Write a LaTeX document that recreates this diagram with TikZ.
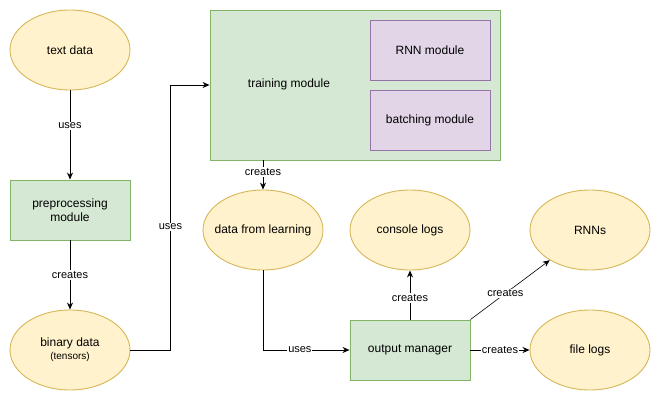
\documentclass[tikz,border=0pt]{standalone}
\usepackage{fontspec}
\setmainfont{Liberation Sans}
\usepackage{tikz}
\usetikzlibrary{arrows.meta,shapes.geometric}
\definecolor{dataFill}{HTML}{FFF2CC}
\definecolor{dataLine}{HTML}{D6B656}
\definecolor{modFill}{HTML}{D5E8D4}
\definecolor{modLine}{HTML}{82B366}
\definecolor{subFill}{HTML}{E1D5E7}
\definecolor{subLine}{HTML}{9673A6}

\begin{document}
\begin{tikzpicture}[x=1pt,y=-1pt,line width=0.9pt,
		>={Stealth[length=7pt,width=6pt]},
		datanode/.style={ellipse,draw=dataLine,fill=dataFill,minimum width=120pt,minimum height=80pt,inner xsep=-25pt,inner ysep=0pt,align=center,font=\fontsize{12}{14}\selectfont},
		modnode/.style={rectangle,draw=modLine,fill=modFill,minimum width=120pt,minimum height=60pt,inner sep=0pt,align=center,font=\fontsize{12}{14}\selectfont},
		subnode/.style={rectangle,draw=subLine,fill=subFill,minimum width=120pt,minimum height=60pt,inner sep=0pt,font=\fontsize{12}{14}\selectfont},
		edgelbl/.style={fill=white,inner sep=1pt,font=\fontsize{11}{13}\selectfont}
	]
		\useasboundingbox (0,0) rectangle (661,401);

		% left column
		\node[datanode] (text) at (70,50) {text data};
		\node[modnode] (prep) at (70,210) {preprocessing\\module};
		\node[datanode] (bin) at (70,350) {binary data\\[-1pt]{\fontsize{10}{12}\selectfont (tensors)}};

		% training block
		\node[modnode,minimum width=290pt,minimum height=150pt] (train) at (355,85) {};
		\node[font=\fontsize{12}{14}\selectfont] (trainlbl) at (289,84) {training module};
		\node[subnode] (rnnmod) at (430,50) {RNN module};
		\node[subnode] (batch) at (430,120) {batching module};

		% outputs
		\node[datanode] (learn) at (263,230) {data from learning};
		\node[datanode] (console) at (410,230) {console logs};
		\node[datanode] (rnns) at (590,230) {RNNs};
		\node[modnode] (om) at (410,350) {output manager};
		\node[datanode] (files) at (590,350) {file logs};

		\draw[->] (text) -- node[edgelbl,pos=0.4] {uses} (prep);
		\draw[->] (prep) -- node[edgelbl] {creates} (bin);
		\draw[->] (bin.east) -- ++(40,0) |- node[edgelbl,pos=0.232] {uses} (train.west);
		\draw[->] (train.south -| learn) -- node[edgelbl,pos=0.4] {creates} (learn);
		\draw[->] (learn) |- node[edgelbl,pos=0.713] {uses} (om.west);
		\draw[->] (om) -- node[edgelbl,pos=0.44] {creates} (console);
		\draw[->,line width=0.6pt] (om.north east) -- node[edgelbl,pos=0.44] {creates} (rnns);
		\draw[->] (om) -- node[edgelbl] {creates} (files);
	\end{tikzpicture}
\end{document}
